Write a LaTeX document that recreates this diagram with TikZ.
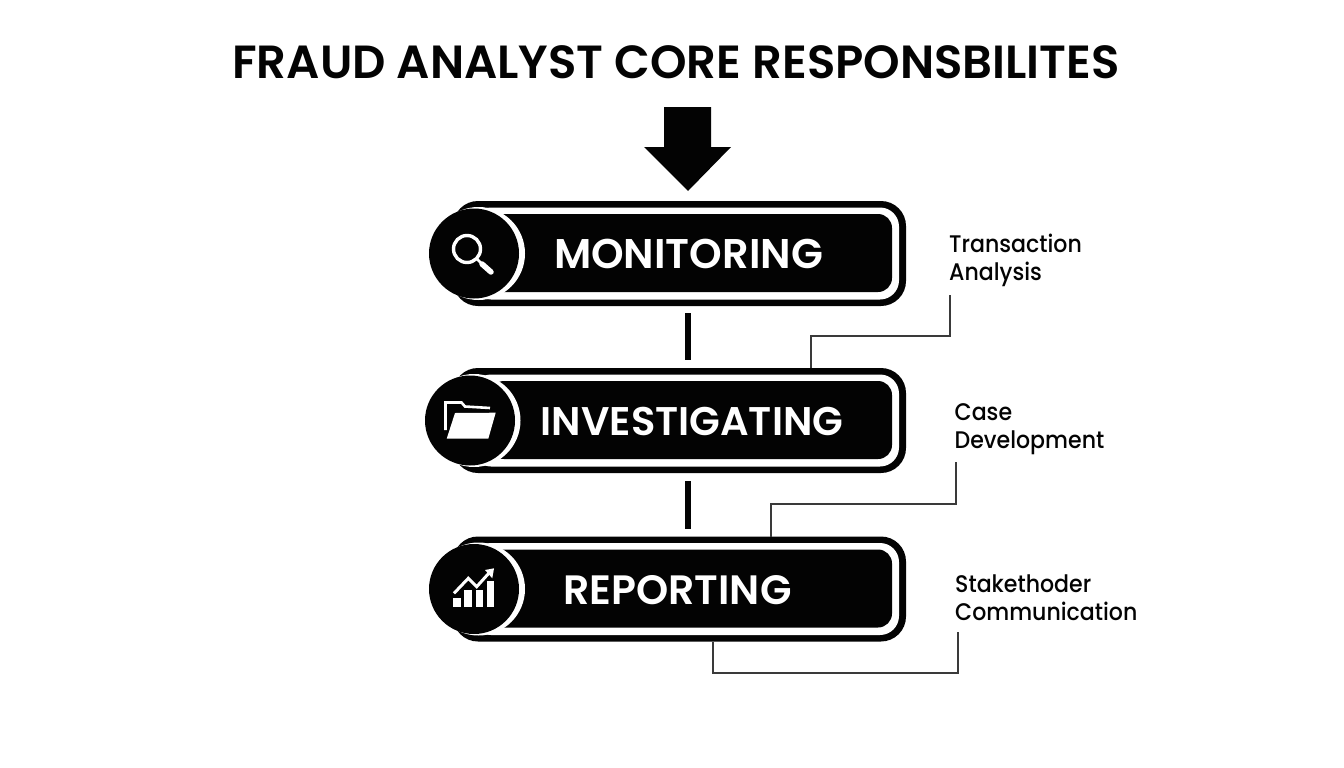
\documentclass[tikz,border=0pt]{standalone}
\usepackage{fontspec}
\setmainfont{Poppins}
\newfontfamily\labelfont[UprightFont=*-Medium,FakeStretch=0.92]{Poppins}
\newfontfamily\headfont[UprightFont=*-SemiBold]{Poppins}
\definecolor{ink}{HTML}{030303}
\definecolor{conn}{HTML}{3A3A3A}
\tikzset{
  box/.style={rectangle,inner sep=0pt,outer sep=0pt,draw=none},
  barouter/.style={box,fill=ink,minimum width=453pt,minimum height=105pt,rounded corners=25pt},
  barwhite/.style={box,fill=white,minimum width=427pt,minimum height=92pt,rounded corners=19pt},
  barinner/.style={box,fill=ink,minimum width=402pt,minimum height=78pt,rounded corners=14pt},
  ringwhite/.style={circle,inner sep=0pt,outer sep=0pt,fill=white,minimum size=93pt},
  ringblack/.style={circle,inner sep=0pt,outer sep=0pt,fill=ink,minimum size=90pt},
  bartext/.style={text=white,inner sep=0pt,font=\fontsize{#1}{#1}\headfont},
  sidelabel/.style={anchor=west,align=left,inner sep=0pt,text=ink,font=\fontsize{24}{28}\selectfont\labelfont},
  leader/.style={draw=conn,line width=1.2pt},
  linkbar/.style={draw=ink,line width=6pt},
  iconline/.style={draw=white,line width=3.4pt},
}
\begin{document}
\begin{tikzpicture}[x=1pt,y=-1pt]
\useasboundingbox (0,0) rectangle (1344,768);
\node[inner sep=0pt,font=\fontsize{46.5}{47}\headfont,text=ink] (title) at (676,62) {FRAUD ANALYST CORE RESPONSBILITES};
\fill[ink] (664,107) -- (711,107) -- (711,147) -- (731,147) -- (688,191) -- (644,147) -- (664,147) -- cycle;
% bar 1
\node[barouter] (bar1) at (679.5,253.5) {};
\node[barwhite] (bar1w) at (685.5,253.5) {};
\node[barinner] (bar1i) at (691,253) {};
\node[ringwhite] (ring1) at (478.5,253.5) {};
\node[ringblack] (disc1) at (474,253.5) {};
\node[bartext=41.5] (mon) at (688.5,254) {MONITORING};
\draw[iconline] (467,249) circle (13.5pt);
\draw[draw=white,line width=2.5pt] (476,258) -- (483,265);
\draw[draw=white,line width=5.5pt,line cap=round] (482,264) -- (491,272);
% bar 2
\node[barouter] (bar2) at (679.5,420.5) {};
\node[barwhite] (bar2w) at (685.5,420.5) {};
\node[barinner] (bar2i) at (691,420) {};
\node[ringwhite] (ring2) at (474,420.5) {};
\node[ringblack] (disc2) at (470,420.5) {};
\node[bartext=40] (inv) at (692,421) {INVESTIGATING};
\fill[white] (455,413) -- (495.7,412.7) -- (488.3,438.7) -- (446.7,438.7) -- cycle;
\draw[draw=white,line width=2.6pt] (445.5,430) -- (445.5,402.5) -- (461.5,402.5) -- (465,406.5) -- (490,408);
% bar 3
\node[barouter] (bar3) at (679.5,589) {};
\node[barwhite] (bar3w) at (685.5,589) {};
\node[barinner] (bar3i) at (691,588.5) {};
\node[ringwhite] (ring3) at (478.5,589) {};
\node[ringblack] (disc3) at (474,589) {};
\node[bartext=41] (rep) at (677.5,590) {REPORTING};
\fill[white] (453.3,597.7) rectangle (460.7,607.3);
\fill[white] (464.3,590) rectangle (472.3,607.3);
\fill[white] (475.7,590) rectangle (482.7,607.3);
\fill[white] (486.7,581) rectangle (494,607.3);
\draw[draw=white,line width=3pt] (454,593.3) -- (468.3,578.3) -- (476.7,586.7) -- (489,573);
\fill[white] (485,570) -- (494,568.3) -- (492.3,578.3) -- cycle;
% links
\coordinate (g1a) at (688,313);
\coordinate (g1b) at (688,360);
\coordinate (g2a) at (688,481);
\coordinate (g2b) at (688,529);
\draw[linkbar] (g1a) -- (g1b);
\draw[linkbar] (g2a) -- (g2b);
% labels
\node[sidelabel] (lab1) at (949,260) {Transaction\\Analysis};
\node[sidelabel] (lab2) at (954.5,429.5) {Case\\Development};
\node[sidelabel] (lab3) at (955,598) {Stakethoder\\Communication};
% leaders
\coordinate (t1) at (950,295);
\coordinate (k1) at (811,336);
\coordinate (t2) at (956,462);
\coordinate (k2) at (771,504);
\coordinate (t3) at (958,632);
\coordinate (k3) at (713,673);
\draw[leader] (t1) |- (k1) -- (k1 |- bar2.north);
\draw[leader] (t2) |- (k2) -- (k2 |- bar3.north);
\draw[leader] (t3) |- (k3) -- (k3 |- bar3.south);
\end{tikzpicture}
\end{document}
